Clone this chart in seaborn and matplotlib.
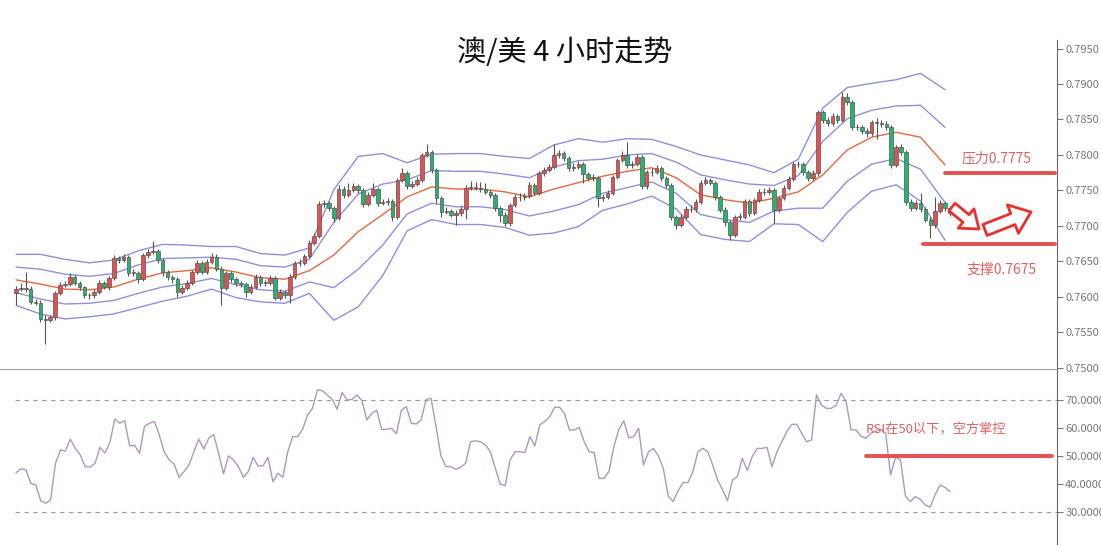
import numpy as np
import pandas as pd
import seaborn as sns
import matplotlib.pyplot as plt

# AUD/USD 4h candles (open, high, low, close)
closes = [
    .7611, .7613, .7611, .7593, .7592, .7569, .7568, .7571, .7606, .7617,
    .7618, .7628, .7620, .7614, .7602, .7602, .7607, .7620, .7614, .7627,
    .7655, .7652, .7656, .7634, .7634, .7625, .7659, .7663, .7665, .7652,
    .7635, .7628, .7625, .7607, .7613, .7620, .7635, .7648, .7635, .7649,
    .7656, .7640, .7613, .7634, .7625, .7620, .7618, .7607, .7614, .7628,
    .7620, .7620, .7627, .7599, .7607, .7602, .7628, .7648, .7648, .7658,
    .7676, .7686, .7731, .7732, .7725, .7711, .7752, .7744, .7751, .7756,
    .7751, .7731, .7744, .7752, .7732, .7734, .7735, .7713, .7765, .7775,
    .7756, .7759, .7765, .7800, .7804, .7779, .7739, .7720, .7721, .7716,
    .7718, .7724, .7754, .7754, .7754, .7752, .7748, .7744, .7725, .7716,
    .7704, .7730, .7741, .7741, .7742, .7758, .7747, .7775, .7779, .7783,
    .7800, .7803, .7796, .7782, .7783, .7787, .7773, .7768, .7768, .7739,
    .7741, .7747, .7769, .7793, .7800, .7786, .7787, .7797, .7756, .7776,
    .7776, .7782, .7768, .7758, .7713, .7701, .7713, .7724, .7724, .7734,
    .7761, .7765, .7761, .7741, .7723, .7706, .7687, .7713, .7713, .7735,
    .7718, .7737, .7748, .7748, .7751, .7723, .7739, .7754, .7766, .7787,
    .7787, .7776, .7768, .7775, .7861, .7849, .7845, .7855, .7849, .7882,
    .7875, .7839, .7839, .7834, .7831, .7846, .7845, .7844, .7839, .7786,
    .7811, .7804, .7734, .7725, .7732, .7724, .7709, .7701, .7721, .7732,
    .7725, .7718,
]
opens = [
    .7606, .7611, .7613, .7611, .7593, .7592, .7569, .7568, .7571, .7606,
    .7617, .7618, .7628, .7620, .7614, .7602, .7602, .7607, .7620, .7614,
    .7627, .7655, .7652, .7656, .7634, .7634, .7625, .7659, .7663, .7665,
    .7652, .7635, .7628, .7625, .7607, .7613, .7620, .7635, .7648, .7635,
    .7649, .7656, .7640, .7613, .7634, .7625, .7620, .7618, .7607, .7614,
    .7628, .7620, .7620, .7627, .7599, .7607, .7602, .7628, .7648, .7648,
    .7658, .7676, .7686, .7731, .7732, .7725, .7711, .7752, .7744, .7751,
    .7756, .7751, .7731, .7744, .7752, .7732, .7734, .7735, .7713, .7765,
    .7775, .7756, .7759, .7765, .7800, .7804, .7779, .7739, .7720, .7721,
    .7716, .7718, .7724, .7754, .7754, .7754, .7752, .7748, .7744, .7725,
    .7716, .7704, .7730, .7741, .7741, .7742, .7758, .7747, .7775, .7779,
    .7783, .7800, .7803, .7796, .7782, .7783, .7787, .7773, .7768, .7768,
    .7739, .7741, .7747, .7769, .7793, .7800, .7786, .7787, .7797, .7756,
    .7776, .7776, .7782, .7768, .7758, .7713, .7701, .7713, .7724, .7724,
    .7734, .7761, .7765, .7761, .7741, .7723, .7706, .7687, .7713, .7713,
    .7735, .7718, .7737, .7748, .7748, .7751, .7723, .7739, .7754, .7766,
    .7787, .7787, .7776, .7768, .7775, .7861, .7849, .7845, .7855, .7849,
    .7882, .7875, .7839, .7839, .7834, .7831, .7846, .7845, .7844, .7839,
    .7786, .7811, .7804, .7734, .7725, .7732, .7724, .7709, .7701, .7721,
    .7732, .7725,
]
highs = [
    .7616, .7620, .7635, .7615, .7597, .7595, .7574, .7575, .7609, .7621,
    .7622, .7633, .7631, .7623, .7616, .7606, .7611, .7624, .7623, .7630,
    .7659, .7658, .7660, .7659, .7640, .7637, .7662, .7667, .7679, .7668,
    .7655, .7638, .7631, .7628, .7617, .7624, .7638, .7652, .7651, .7653,
    .7662, .7660, .7643, .7637, .7637, .7628, .7623, .7621, .7618, .7632,
    .7631, .7624, .7631, .7630, .7611, .7610, .7632, .7651, .7653, .7661,
    .7680, .7690, .7735, .7737, .7735, .7728, .7758, .7756, .7760, .7760,
    .7759, .7754, .7748, .7760, .7755, .7738, .7739, .7738, .7768, .7782,
    .7778, .7763, .7769, .7803, .7816, .7807, .7782, .7742, .7726, .7724,
    .7722, .7728, .7758, .7764, .7762, .7762, .7760, .7751, .7747, .7728,
    .7719, .7733, .7745, .7746, .7747, .7762, .7761, .7778, .7783, .7787,
    .7816, .7807, .7806, .7799, .7788, .7791, .7790, .7776, .7773, .7771,
    .7745, .7751, .7772, .7796, .7806, .7818, .7792, .7801, .7800, .7779,
    .7781, .7786, .7785, .7771, .7761, .7716, .7717, .7728, .7729, .7738,
    .7765, .7769, .7768, .7764, .7744, .7726, .7709, .7716, .7718, .7738,
    .7738, .7740, .7752, .7753, .7755, .7754, .7742, .7757, .7770, .7790,
    .7792, .7790, .7779, .7779, .7863, .7864, .7853, .7859, .7858, .7889,
    .7887, .7878, .7844, .7842, .7838, .7849, .7852, .7849, .7848, .7842,
    .7814, .7815, .7807, .7738, .7736, .7746, .7727, .7712, .7741, .7737,
    .7735, .7728,
]
lows = [
    .7589, .7608, .7607, .7590, .7588, .7565, .7533, .7564, .7567, .7603,
    .7614, .7615, .7617, .7610, .7598, .7597, .7599, .7604, .7611, .7610,
    .7624, .7648, .7649, .7630, .7630, .7620, .7622, .7655, .7660, .7648,
    .7630, .7624, .7620, .7600, .7604, .7610, .7617, .7632, .7632, .7632,
    .7646, .7637, .7589, .7610, .7621, .7616, .7614, .7600, .7604, .7611,
    .7616, .7616, .7617, .7595, .7596, .7598, .7592, .7625, .7644, .7645,
    .7655, .7673, .7683, .7727, .7721, .7705, .7708, .7740, .7741, .7748,
    .7747, .7727, .7728, .7741, .7728, .7729, .7730, .7707, .7710, .7762,
    .7752, .7753, .7756, .7762, .7797, .7775, .7733, .7712, .7717, .7712,
    .7701, .7714, .7710, .7750, .7750, .7748, .7745, .7740, .7721, .7705,
    .7700, .7700, .7727, .7735, .7736, .7739, .7743, .7744, .7771, .7776,
    .7780, .7796, .7792, .7778, .7778, .7780, .7760, .7764, .7764, .7727,
    .7735, .7738, .7744, .7766, .7790, .7782, .7782, .7784, .7752, .7752,
    .7771, .7773, .7764, .7754, .7708, .7696, .7698, .7710, .7720, .7720,
    .7731, .7758, .7757, .7737, .7719, .7700, .7680, .7684, .7709, .7710,
    .7714, .7715, .7734, .7744, .7745, .7704, .7720, .7736, .7751, .7763,
    .7783, .7772, .7764, .7765, .7771, .7845, .7841, .7841, .7845, .7846,
    .7871, .7835, .7835, .7829, .7826, .7827, .7822, .7840, .7835, .7782,
    .7783, .7800, .7730, .7721, .7722, .7720, .7705, .7683, .7697, .7718,
    .7721, .7714,
]

# Bollinger bands read every 5th candle: middle line and one std-dev
band_mid = [
    .7624, .7618, .7611, .7610, .7614, .7625, .7634, .7637, .7641, .7635,
    .7627, .7625, .7637, .7659, .7692, .7716, .7741, .7755, .7752, .7752,
    .7748, .7741, .7752, .7761, .7770, .7777, .7782, .7768, .7744, .7737,
    .7732, .7739, .7748, .7772, .7807, .7825, .7832, .7825, .7786,
]
band_sd = [
    .0018, .0021, .0021, .0019, .0019, .0020, .0020, .0018, .0015, .0018,
    .0017, .0017, .0016, .0046, .0053, .0043, .0024, .0023, .0025, .0025,
    .0025, .0027, .0031, .0031, .0024, .0023, .0020, .0022, .0028, .0028,
    .0027, .0018, .0023, .0047, .0044, .0038, .0037, .0045, .0053,
]

rsi = [
    44.0, 45.4, 45.0, 40.2, 39.6, 34.0, 33.1, 34.3, 47.4, 52.1,
    51.8, 56.0, 52.7, 50.4, 46.2, 46.0, 47.4, 53.1, 51.0, 54.8,
    63.2, 61.7, 62.6, 53.6, 53.8, 51.0, 60.5, 61.7, 62.3, 57.5,
    51.5, 48.6, 47.1, 42.4, 44.4, 46.8, 51.5, 56.0, 52.5, 56.3,
    57.7, 51.0, 43.6, 50.0, 48.6, 46.2, 42.4, 44.4, 49.5, 46.4,
    46.5, 49.5, 40.8, 43.8, 42.4, 51.5, 56.9, 56.9, 59.5, 64.6,
    67.0, 73.6, 73.3, 71.8, 70.2, 66.7, 72.7, 70.0, 70.2, 71.8,
    69.8, 62.9, 65.2, 66.4, 59.5, 59.5, 59.9, 57.9, 66.4, 67.6,
    61.7, 61.4, 62.9, 70.2, 70.6, 60.5, 50.0, 46.2, 46.2, 45.2,
    46.0, 47.4, 55.1, 55.4, 55.1, 53.9, 51.5, 45.6, 40.0, 39.4,
    48.6, 51.5, 51.5, 51.2, 56.9, 53.6, 61.1, 62.3, 64.0, 67.4,
    67.4, 65.2, 59.3, 59.3, 60.2, 55.1, 51.5, 51.2, 42.0, 42.0,
    44.4, 53.3, 59.5, 62.5, 56.5, 56.9, 59.9, 46.8, 51.5, 52.7,
    50.0, 45.6, 35.7, 33.7, 37.6, 40.5, 40.5, 44.4, 51.5, 52.7,
    51.5, 46.8, 41.4, 37.9, 34.0, 41.4, 42.6, 49.2, 44.8, 49.8,
    52.7, 52.7, 53.1, 46.2, 51.5, 55.1, 58.7, 61.3, 61.3, 58.1,
    55.1, 55.7, 71.8, 68.2, 67.0, 67.0, 68.2, 72.4, 69.4, 59.3,
    59.3, 57.1, 56.3, 58.1, 58.9, 59.5, 58.1, 43.2, 49.5, 48.6,
    35.7, 33.7, 35.5, 34.5, 32.5, 31.7, 36.1, 39.6, 38.8, 37.3,
]

price_ticks = [0.7500, 0.7550, 0.7600, 0.7650, 0.7700, 0.7750, 0.7800, 0.7850, 0.7900, 0.7950]
rsi_ticks = [30, 40, 50, 60, 70]
resistance = 0.7775
support = 0.7675
rsi_level = 50

RED = '#e5504f'
GREEN = '#27b36e'
TXT_RED = '#e0605e'
BAND = '#8f8fe0'

sns.set_theme(style='white')
plt.rcParams['font.family'] = ['Noto Sans CJK SC', 'DejaVu Sans']

n = len(closes)
idx = np.arange(1, n + 1)
o = np.array(opens)
c = np.array(closes)
up = c >= o

fig = plt.figure(figsize=(11.01, 5.45), dpi=100)
ax = fig.add_axes([0, 0.3211, 0.96, 0.6055])
ax2 = fig.add_axes([0, 0, 0.96, 0.3211], sharex=ax)

# candles
ax.vlines(idx, lows, highs, color='#555555', lw=0.8, zorder=2)
body_lo = np.minimum(o, c)
body_h = np.maximum(np.abs(c - o), 0.00004)
ax.bar(idx, body_h, bottom=body_lo, width=0.72,
       color=np.where(up, RED, GREEN), edgecolor='#555555', linewidth=0.5, zorder=3)

# bollinger lines
bpos = np.arange(1, n + 1, 5)
mid = np.array(band_mid)
sd = np.array(band_sd)
bands = pd.DataFrame({'pos': bpos, 'mid': mid, 'u1': mid + sd, 'u2': mid + 2 * sd,
                      'l1': mid - sd, 'l2': mid - 2 * sd})
for col in ['u2', 'u1', 'l1', 'l2']:
    sns.lineplot(data=bands, x='pos', y=col, ax=ax, color=BAND, lw=1.0, zorder=1)
sns.lineplot(data=bands, x='pos', y='mid', ax=ax, color='#e8673f', lw=1.0, zorder=1)

ax.set_xlim(-2.27, 213.9)
ax.set_ylim(0.7497, 0.7962)
ax.set_yticks(price_ticks)
ax.set_yticklabels([f'{t:.4f}' for t in price_ticks])

# support / resistance
ax.axhline(resistance, xmin=0.894, xmax=0.998, color=RED, lw=2.8, zorder=4)
ax.axhline(support, xmin=0.873, xmax=0.998, color=RED, lw=2.8, zorder=4)
ax.text(0.910, 0.642, f'压力{resistance:.4f}', transform=ax.transAxes, color=TXT_RED,
        fontsize=10, va='center', ha='left')
ax.text(0.914, 0.303, f'支撑{support:.4f}', transform=ax.transAxes, color=TXT_RED,
        fontsize=10, va='center', ha='left')

# hollow arrows
arrow_kw = dict(fc='white', ec='#e8302f', lw=2.0, shrinkA=0, shrinkB=0, mutation_scale=10)
ax.annotate('', xy=(979, 316), xytext=(952, 338), xycoords='figure pixels',
            textcoords='figure pixels',
            arrowprops=dict(arrowstyle='simple,head_length=1.2,head_width=1.8,tail_width=0.7', **arrow_kw))
ax.annotate('', xy=(1031, 333), xytext=(985, 315), xycoords='figure pixels',
            textcoords='figure pixels',
            arrowprops=dict(arrowstyle='simple,head_length=1.4,head_width=2.2,tail_width=0.85', **arrow_kw))

# RSI panel
rsi_x = np.linspace(1, n, len(rsi))
sns.lineplot(x=rsi_x, y=rsi, ax=ax2, color='#b196bd', lw=1.0)
ax2.axhline(70, xmin=0.014, xmax=1, color='#999999', lw=0.8, ls=(0, (4, 4)))
ax2.axhline(30, xmin=0.014, xmax=1, color='#999999', lw=0.8, ls=(0, (4, 4)))
ax2.axhline(rsi_level, xmin=0.819, xmax=0.995, color=RED, lw=2.8)
ax2.text(0.819, 0.657, 'RSI在50以下，空方掌控', transform=ax2.transAxes, color=TXT_RED,
         fontsize=9.5, va='center', ha='left')
ax2.set_ylim(18.2, 80.7)
ax2.set_yticks(rsi_ticks)
ax2.set_yticklabels([f'{t:.4f}' for t in rsi_ticks])

for a in (ax, ax2):
    a.set_xlabel('')
    a.set_ylabel('')
    a.set_xticks([])
    a.yaxis.tick_right()
    a.tick_params(axis='y', direction='out', length=4, width=0.8, color='#777777',
                  labelsize=8, labelcolor='#777777', pad=2, right=True, left=False)
    for s in ('top', 'left'):
        a.spines[s].set_visible(False)
    a.spines['right'].set_color('#666666')
    a.spines['right'].set_linewidth(0.8)
ax.spines['bottom'].set_color('#888888')
ax.spines['bottom'].set_linewidth(1.2)
ax2.spines['bottom'].set_visible(False)

fig.text(0.513, 0.903, '澳/美 4 小时走势', ha='center', va='center', fontsize=21, color='#111111')

fig.savefig('out.png', dpi=100)
